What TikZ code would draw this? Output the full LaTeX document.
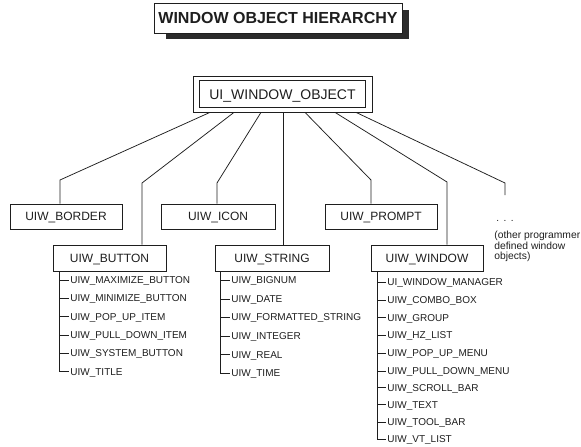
\documentclass[tikz,border=0pt]{standalone}
\usepackage{fontspec}
\setmainfont{Liberation Sans}
\definecolor{ink}{HTML}{1E1E1E}
\definecolor{shadowgray}{HTML}{2B2B2B}
\begin{document}
\begin{tikzpicture}[x=1pt,y=-1pt,
  line width=0.75pt, draw=ink,
  every node/.style={text=ink},
  classbox/.style={draw=ink, line width=0.75pt, inner sep=0pt, minimum height=26pt,
    font=\fontsize{12}{14}\selectfont, text height=8.6pt, text depth=0pt},
  leaf/.style={anchor=west, inner xsep=1.5pt, inner ysep=0pt,
    font=\fontsize{10}{12}\selectfont, text height=7.2pt, text depth=0pt},
  note/.style={anchor=north west, inner sep=0pt, align=left,
    font=\fontsize{10.3}{10.8}\selectfont}]
\useasboundingbox (0,0) rectangle (581,447);

% title banner with drop shadow
\path[fill=shadowgray, draw=none] (166,10) rectangle (409,39);
\node[draw=ink, fill=white, line width=0.75pt, minimum width=248pt, minimum height=30pt,
  inner sep=0pt, font=\bfseries\fontsize{16}{18}\selectfont, text height=11.5pt, text depth=0pt]
  (title) at (278,18) {WINDOW OBJECT HIERARCHY};

% root class, double frame
\node[classbox, minimum width=179pt, minimum height=36pt,
  font=\fontsize{14}{16}\selectfont, text height=10pt] (root) at (282.5,94) {UI\_WINDOW\_OBJECT};
\draw ([shift={(7pt,-5pt)}]root.north west) rectangle ([shift={(-7pt,5pt)}]root.south east);

% first row of derived classes
\node[classbox, minimum width=112pt, minimum height=25pt] (border) at (66,216.5) {UIW\_BORDER};
\node[classbox, minimum width=114pt, minimum height=25pt] (icon) at (218,216.5) {UIW\_ICON};
\node[classbox, minimum width=112pt, minimum height=25pt] (prompt) at (381,216.5) {UIW\_PROMPT};

% second row of derived classes
\node[classbox, minimum width=113pt] (button) at (109.5,258) {UIW\_BUTTON};
\node[classbox, minimum width=114pt] (string) at (272,258) {UIW\_STRING};
\node[classbox, minimum width=112pt] (window) at (427,258) {UIW\_WINDOW};

% user-defined classes
\node[inner sep=0pt, font=\fontsize{10}{12}\selectfont] (dots) at (505,221) {.\hspace{4.5pt}.\hspace{4.5pt}.};
\node[note] (other) at (494,230.5) {(other programmer\\defined window\\objects)};

% bends of the connectors
\coordinate (kBorder) at (60,180);
\coordinate (kButton) at (142,183);
\coordinate (kIcon) at (217,183);
\coordinate (kString) at (283,0);
\coordinate (kPrompt) at (371,180);
\coordinate (kWindow) at (447,182);
\coordinate (kDots) at (505,183);
\coordinate (dotsEnd) at (505,195);

\draw ([xshift=-72.5pt]root.south) -- (kBorder) -- (border.north -| kBorder);
\draw ([xshift=-48.5pt]root.south) -- (kButton) -- (button.north -| kButton);
\draw ([xshift=-21.5pt]root.south) -- (kIcon) -- (icon.north -| kIcon);
\draw (root.south -| kString) -- (string.north -| kString);
\draw ([xshift=22.5pt]root.south) -- (kPrompt) -- (prompt.north -| kPrompt);
\draw ([xshift=52.5pt]root.south) -- (kWindow) -- (window.north -| kWindow);
\draw ([xshift=73.5pt]root.south) -- (kDots) -- (dotsEnd);

% leaf lists
\coordinate (tButton) at (59,0);
\coordinate (tString) at (220,0);
\coordinate (tWindow) at (377,0);

\foreach \n/\y/\t in {1/280/UIW\_MAXIMIZE\_BUTTON, 2/298.3/UIW\_MINIMIZE\_BUTTON,
    3/316.6/UIW\_POP\_UP\_ITEM, 4/335/UIW\_PULL\_DOWN\_ITEM,
    5/353.3/UIW\_SYSTEM\_BUTTON, 6/371.6/UIW\_TITLE}{
  \node[leaf] (bt\n) at (68.5,\y) {\t};
  \draw (button.south -| tButton) |- (bt\n.west);
}

\foreach \n/\y/\t in {1/280/UIW\_BIGNUM, 2/299/UIW\_DATE,
    3/317.3/UIW\_FORMATTED\_STRING, 4/336/UIW\_INTEGER,
    5/354.5/UIW\_REAL, 6/373/UIW\_TIME}{
  \node[leaf] (st\n) at (229.5,\y) {\t};
  \draw (string.south -| tString) |- (st\n.west);
}

\foreach \n/\y/\t in {1/282/UI\_WINDOW\_MANAGER, 2/300/UIW\_COMBO\_BOX,
    3/317.5/UIW\_GROUP, 4/335/UIW\_HZ\_LIST, 5/353/UIW\_POP\_UP\_MENU,
    6/371/UIW\_PULL\_DOWN\_MENU, 7/387.5/UIW\_SCROLL\_BAR, 8/404.5/UIW\_TEXT,
    9/422/UIW\_TOOL\_BAR, 10/439/UIW\_VT\_LIST}{
  \node[leaf] (wn\n) at (385.5,\y) {\t};
  \draw (window.south -| tWindow) |- (wn\n.west);
}
\end{tikzpicture}
\end{document}
